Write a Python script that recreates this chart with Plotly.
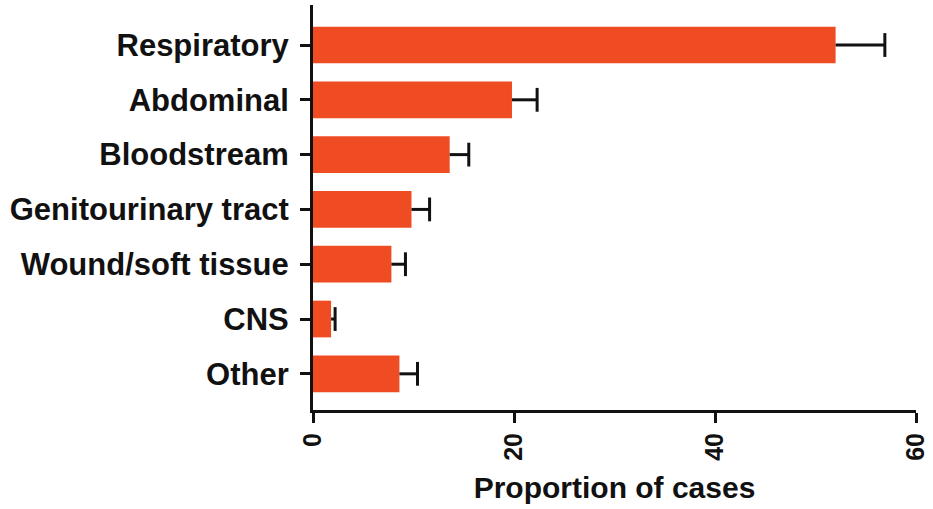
import plotly.graph_objects as go

categories = ["Respiratory", "Abdominal", "Bloodstream", "Genitourinary tract",
              "Wound/soft tissue", "CNS", "Other"]
values = [52.0, 19.8, 13.6, 9.8, 7.8, 1.8, 8.6]
errors = [4.9, 2.5, 1.9, 1.8, 1.4, 0.4, 1.8]
x_ticks = [0, 20, 40, 60]

bar_color = "#F04C23"
font_family = "Liberation Sans, Arial, sans-serif"
err_color = "#111111"

cap_x = [v + e for v, e in zip(values, errors)]

fig = go.Figure()
fig.add_trace(go.Bar(
    y=categories,
    x=values,
    orientation="h",
    width=0.67,
    marker=dict(color=bar_color, line=dict(width=0)),
    error_x=dict(type="data", array=errors, arrayminus=[0] * len(errors),
                 symmetric=False, color=err_color, thickness=3, width=0),
    hoverinfo="x+y",
))
fig.add_trace(go.Scatter(
    y=categories,
    x=cap_x,
    mode="markers",
    marker=dict(symbol="line-ns", size=17, line=dict(width=3, color=err_color)),
    hoverinfo="skip",
))

fig.update_layout(
    width=933, height=509,
    margin=dict(l=313, r=17, t=5, b=99),
    plot_bgcolor="white", paper_bgcolor="white",
    showlegend=False,
    font=dict(family=font_family, color="#111111", weight="bold"),
    xaxis=dict(
        range=[0, 60], tickvals=x_ticks, ticktext=[str(t) for t in x_ticks],
        showgrid=False, zeroline=False, automargin=False,
        showline=True, linecolor="#111111", linewidth=3,
        ticks="outside", ticklen=10, tickwidth=3, tickcolor="#111111",
        tickangle=-90, ticklabeloverflow="allow",
        tickfont=dict(size=25, family=font_family, weight="bold"),
        title=dict(text="Proportion of cases", standoff=18,
                   font=dict(size=30, family=font_family, weight="bold")),
    ),
    yaxis=dict(
        categoryorder="array", categoryarray=categories,
        range=[6.66, -0.73], automargin=False,
        showgrid=False, zeroline=False,
        showline=True, linecolor="#111111", linewidth=3,
        ticks="outside", ticklen=10, tickwidth=3, tickcolor="#111111",
        tickfont=dict(size=31, family=font_family, weight="bold"),
        ticklabelstandoff=5,
    ),
)

fig.write_html("out.html")
